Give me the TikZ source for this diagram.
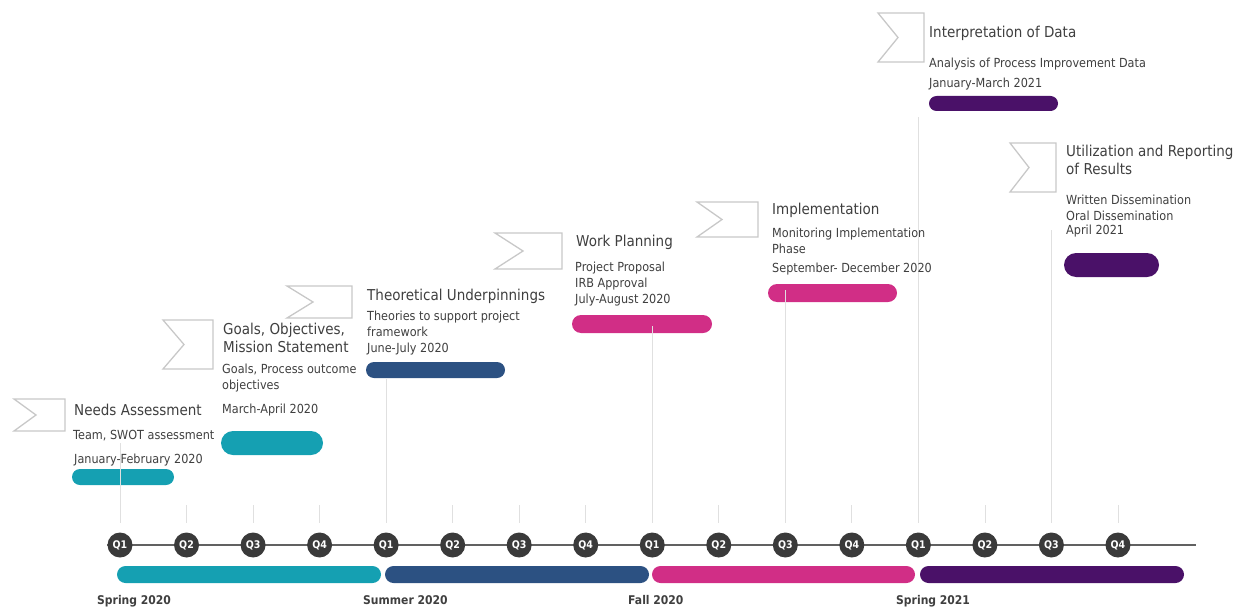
\documentclass[tikz,border=0pt]{standalone}
\usepackage{fontspec}
\setmainfont{DejaVu Sans}[FakeStretch=0.9]
\usetikzlibrary{shapes.misc}
\definecolor{cteal}{HTML}{15A0B2}
\definecolor{cblue}{HTML}{2C5182}
\definecolor{cmag}{HTML}{D12E86}
\definecolor{cpur}{HTML}{4A1168}
\definecolor{ctext}{HTML}{3F3F3F}
\definecolor{cdot}{HTML}{3A3A3A}
\definecolor{cflag}{HTML}{C8C8C8}
\definecolor{cgrid}{HTML}{E0E0E0}
\tikzset{
  ttl/.style={anchor=base west, inner sep=0pt, text=ctext, font=\fontsize{15}{18}\selectfont},
  subt/.style={anchor=base west, inner sep=0pt, text=ctext, font=\fontsize{12.5}{15}\selectfont},
  seasonlbl/.style={anchor=base west, inner sep=0pt, text=ctext, font=\bfseries\fontsize{12}{14}\selectfont},
  bar/.style={rounded rectangle, inner sep=0pt, draw=none},
  flagline/.style={draw=cflag, line width=1.3pt, line join=miter},
  gridln/.style={draw=cgrid, line width=0.8pt},
  qdot/.style={circle, fill=cdot, minimum size=25pt, inner sep=0pt, text=white, font=\bfseries\fontsize{10.5}{11}\selectfont},
  axisln/.style={draw=black!62, line width=1.6pt}
}
\newcommand{\barat}[6]{% name, x1, y1, x2, y2, colour
  \node[bar, fill=#6, minimum width={#4-#2}, minimum height={#5-#3}] (#1) at ({(#2+#4)/2},{(#3+#5)/2}) {};}
\newcommand{\flagat}[5]{% x1,y1,x2,y2,notch x
  \draw[flagline] (#1,#2) -- (#3,#2) -- (#3,#4) -- (#1,#4) -- (#5,{(#2+#4)/2}) -- cycle;}
\begin{document}
\begin{tikzpicture}[x=1pt,y=-1pt]
\useasboundingbox (0,0) rectangle (1246,607);

% axis
\coordinate (axL) at (107,545);
\coordinate (axR) at (1196,545);
\draw[axisln] (axL) -- (axR);

% season bars
\barat{s1}{117}{566}{381}{583}{cteal}
\barat{s2}{385}{566}{649}{583}{cblue}
\barat{s3}{652}{566}{915}{583}{cmag}
\barat{s4}{920}{566}{1184}{583}{cpur}
\node[seasonlbl] (l1) at (97,604) {Spring 2020};
\node[seasonlbl] (l2) at (363,604) {Summer 2020};
\node[seasonlbl] (l3) at (628,604) {Fall 2020};
\node[seasonlbl] (l4) at (896,604) {Spring 2021};

% task bars
\barat{b1}{72}{469}{174}{485}{cteal}
\barat{b2}{221}{431}{323}{455}{cteal}
\barat{b3}{366}{362}{505}{378}{cblue}
\barat{b4}{572}{315}{712}{333}{cmag}
\barat{b5}{768}{284}{897}{302}{cmag}
\barat{b6}{929}{96}{1058}{111}{cpur}
\barat{b7}{1064}{253}{1159}{277}{cpur}

% quarter markers
\foreach \i in {1,...,16} {
  \pgfmathsetmacro{\xx}{120+(\i-1)*66.53}
  \coordinate (g\i) at (\xx,545);
}
\foreach \i in {1,...,16} {
  \draw[gridln] (g\i |- 0,505) -- (g\i |- 0,523);
}
\draw[gridln] (g1 |- 0,443) -- (g1 |- 0,523);
\draw[gridln] (g5 |- 0,379) -- (g5 |- 0,523);
\draw[gridln] (g9 |- 0,326) -- (g9 |- 0,523);
\draw[gridln] (g11 |- 0,290) -- (g11 |- 0,523);
\draw[gridln] (g13 |- 0,117) -- (g13 |- 0,523);
\draw[gridln] (g15 |- 0,230) -- (g15 |- 0,523);
\foreach \i in {1,...,16} {
  \pgfmathtruncatemacro{\qq}{mod(\i-1,4)+1}
  \node[qdot] (q\i) at (g\i) {Q\qq};
}

% flags
\flagat{14}{399}{65}{431}{36}
\flagat{163}{320}{213}{369}{184}
\flagat{287}{286}{352}{318}{313}
\flagat{495}{233}{562}{269}{523}
\flagat{697}{202}{758}{237}{722}
\flagat{878}{13}{924}{62}{898}
\flagat{1010}{143}{1056}{192}{1029}

% texts
\node[ttl] (t1) at (74,415) {Needs Assessment};
\node[subt] (t1a) at (73,439.3) {Team, SWOT assessment};
\node[subt] (t1b) at (74,463.3) {January-February 2020};

\node[ttl] (t2) at (223,334.5) {Goals, Objectives,};
\node[ttl] (t2x) at (223,352.5) {Mission Statement};
\node[subt] (t2a) at (222,373.5) {Goals, Process outcome};
\node[subt] (t2b) at (222,389.5) {objectives};
\node[subt] (t2c) at (222,413.3) {March-April 2020};

\node[ttl] (t3) at (367,300.5) {Theoretical Underpinnings};
\node[subt] (t3a) at (367,320.5) {Theories to support project};
\node[subt] (t3b) at (367,336.5) {framework};
\node[subt] (t3c) at (367,352.5) {June-July 2020};

\node[ttl] (t4) at (576,246.5) {Work Planning};
\node[subt] (t4a) at (575,271.5) {Project Proposal};
\node[subt] (t4b) at (575,287.5) {IRB Approval};
\node[subt] (t4c) at (575,303.5) {July-August 2020};

\node[ttl] (t5) at (772,214.5) {Implementation};
\node[subt] (t5a) at (772,237.5) {Monitoring Implementation};
\node[subt] (t5b) at (772,253.5) {Phase};
\node[subt] (t5c) at (772,272.5) {September- December 2020};

\node[ttl] (t6) at (929,37.5) {Interpretation of Data};
\node[subt] (t6a) at (929,68) {Analysis of Process Improvement Data};
\node[subt] (t6b) at (929,88) {January-March 2021};

\node[ttl] (t7) at (1066,156) {Utilization and Reporting};
\node[ttl] (t7x) at (1066,174.5) {of Results};
\node[subt] (t7a) at (1066,204) {Written Dissemination};
\node[subt] (t7b) at (1066,220) {Oral Dissemination};
\node[subt] (t7c) at (1066,234) {April 2021};
\end{tikzpicture}
\end{document}
